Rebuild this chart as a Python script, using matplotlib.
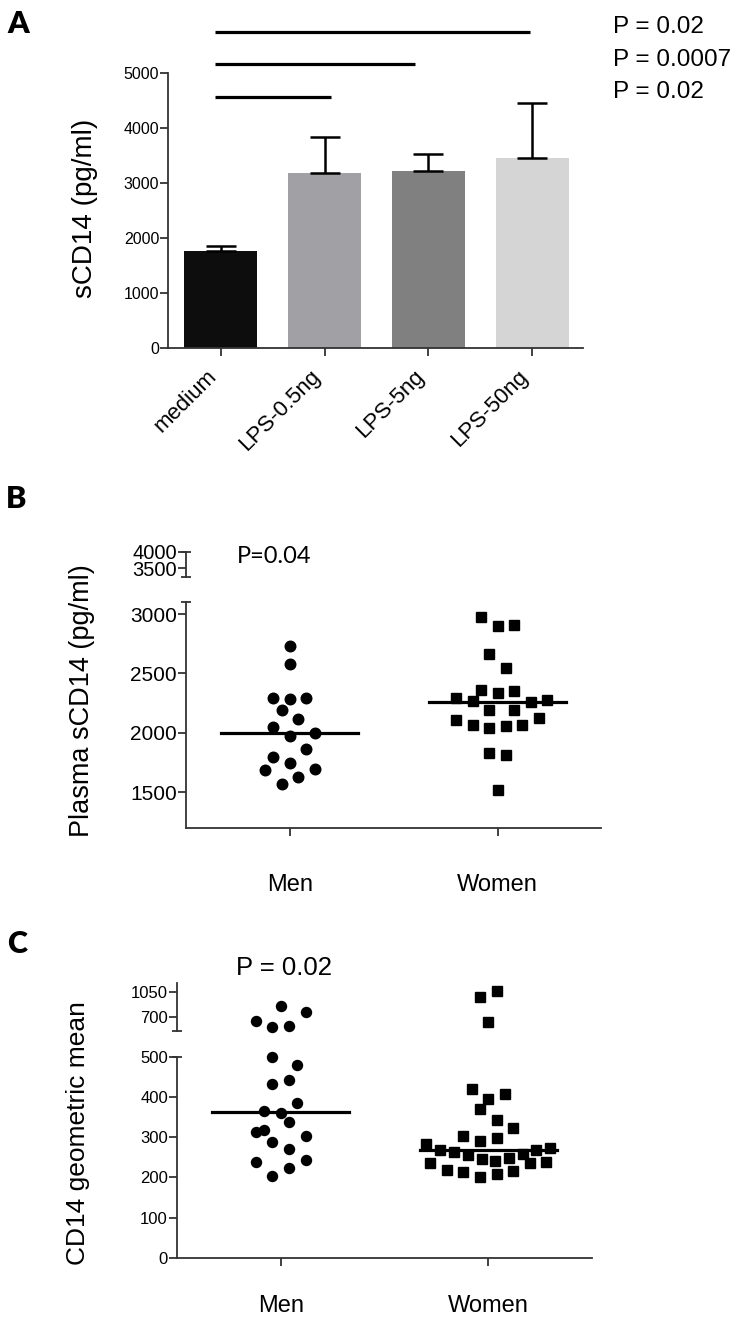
import numpy as np
import matplotlib
matplotlib.use('Agg')
import matplotlib.pyplot as plt

# Panel A: sCD14 in culture supernatant
groups_a = ['medium', 'LPS-0.5ng', 'LPS-5ng', 'LPS-50ng']
means_a = [1775, 3180, 3230, 3460]
errs_a = [90, 655, 305, 1005]
pvals_a = ['P = 0.02', 'P = 0.0007', 'P = 0.02']
compare_a = [3, 2, 1]   # medium vs. this group, top to bottom

# Panel B: plasma sCD14 (pg/ml)
men_b = [2733, 2576, 2295, 2284, 2295, 2191, 2115, 2048, 1972, 2000,
         1865, 1792, 1744, 1685, 1697, 1629, 1570]
men_b_jit = [0, 0, -0.08, 0, 0.08, -0.04, 0.04, -0.08, 0, 0.12,
             0.08, -0.08, 0, -0.12, 0.12, 0.04, -0.04]
women_b = [2972, 2902, 2910, 2666, 2545, 2357, 2337, 2348, 2295, 2270,
           2258, 2275, 2194, 2194, 2110, 2065, 2039, 2053, 2067, 2121,
           1826, 1812, 1517]
women_b_jit = [-0.08, 0, 0.08, -0.04, 0.04, -0.08, 0, 0.08, -0.2, -0.12,
               0.16, 0.24, -0.04, 0.08, -0.2, -0.12, -0.04, 0.04, 0.12, 0.2,
               -0.04, 0.04, 0]

# Panel C: CD14 geometric mean
men_c = [858, 768, 649, 571, 581, 499, 479, 432, 441, 385, 365, 360,
         337, 312, 317, 302, 288, 270, 238, 243, 222, 203]
men_c_jit = [0, 0.12, -0.12, -0.04, 0.04, -0.04, 0.08, -0.04, 0.04, 0.08,
             -0.08, 0, 0.04, -0.12, -0.08, 0.12, -0.04, 0.04, -0.12, 0.12,
             0.04, -0.04]
women_c = [982, 1064, 632, 419, 408, 395, 370, 342, 322, 303, 291, 299,
           283, 268, 264, 255, 245, 241, 248, 259, 267, 272,
           235, 218, 212, 200, 208, 216, 235, 239]
women_c_jit = [-0.04, 0.04, 0, -0.08, 0.08, 0, -0.04, 0.04, 0.12, -0.12, -0.04, 0.04,
               -0.3, -0.234, -0.167, -0.1, -0.032, 0.034, 0.1, 0.168, 0.232, 0.298,
               -0.28, -0.2, -0.12, -0.04, 0.04, 0.12, 0.2, 0.28]

sexes = ['Men', 'Women']

W, H = 738, 1318
plt.rcParams['font.family'] = ['Liberation Sans', 'DejaVu Sans']
SPINE = '#333333'
fig = plt.figure(figsize=(W / 100, H / 100), dpi=100)


def add_axes_px(left, top, right, bottom):
    return fig.add_axes([left / W, 1 - bottom / H, (right - left) / W, (bottom - top) / H])


def style_axes(ax, ysize, left_only=False):
    for side in ['top', 'right']:
        ax.spines[side].set_visible(False)
    for side in ['left', 'bottom']:
        ax.spines[side].set_color(SPINE)
        ax.spines[side].set_linewidth(1.3)
    if left_only:
        ax.spines['bottom'].set_visible(False)
        ax.set_xticks([])
    ax.tick_params(axis='y', length=6, width=1.3, color=SPINE, pad=0.5, labelsize=ysize)
    ax.patch.set_alpha(0)


def break_cap(ax, y):
    # small horizontal cap where the y-axis is broken
    ax.plot([0], [y], marker='_', ms=7, mew=1.3, color=SPINE,
            transform=ax.transAxes, clip_on=False)


# ---------------- Panel A ----------------
ax_a = add_axes_px(168.3, 73.3, 583.3, 348.3)
style_axes(ax_a, 11.5)
xa = np.arange(len(groups_a))
colors_a = ['#0d0d0d', '#a1a1a5', '#808080', '#d5d5d5']
ax_a.bar(xa, means_a, width=0.70, color=colors_a, zorder=2)
ax_a.errorbar(xa, means_a, yerr=[np.zeros(len(errs_a)), errs_a], fmt='none',
              ecolor='black', elinewidth=1.8, capsize=11, capthick=1.8, zorder=3)
ax_a.set_xlim(-0.504, 3.49)
ax_a.set_ylim(0, 5000)
ax_a.set_yticks(np.arange(0, 5001, 1000))
ax_a.set_xticks(xa)
ax_a.set_xticklabels(groups_a, rotation=45, ha='right', fontsize=16)
ax_a.tick_params(axis='x', length=5.5, width=1.3, color=SPINE, pad=7)

# significance lines above the bars
line_heights = [5756, 5164, 4564]
line_ends = [2.98, 1.87, 1.06]
for h, x1 in zip(line_heights, line_ends):
    ax_a.plot([-0.05, x1], [h, h], color='black', lw=2.3, clip_on=False, solid_capstyle='butt')
for i, p in enumerate(pvals_a):
    fig.text(613 / W, 1 - (33.3 + 32.2 * i) / H, p, fontsize=17.5, va='baseline', ha='left')

fig.text(85 / W, 1 - 208 / H, 'sCD14 (pg/ml)', rotation=90, fontsize=20, ha='center', va='center')
fig.text(7 / W, 1 - 33 / H, 'A', fontsize=22, fontweight='heavy', family='Lato', va='baseline')

# ---------------- Panel B ----------------
ax_b = add_axes_px(186, 602.3, 601.4, 828)
style_axes(ax_b, 15)
ax_b.set_xlim(0.5, 2.5)
ax_b.set_ylim(1197, 3099)
ax_b.set_yticks([1500, 2000, 2500, 3000])
ax_b.set_xticks([1, 2])
ax_b.set_xticklabels(sexes, fontsize=17)
ax_b.tick_params(axis='x', length=6, width=1.3, color=SPINE, pad=27)
ax_b.plot(1 + np.array(men_b_jit), men_b, 'o', color='black', ms=7.6, clip_on=False)
ax_b.plot(2 + np.array(women_b_jit), women_b, 's', color='black', ms=7.2, clip_on=False)
for i, vals in enumerate([men_b, women_b]):
    m = np.median(vals)
    ax_b.plot([i + 1 - 0.33, i + 1 + 0.33], [m, m], color='black', lw=2.3)
break_cap(ax_b, 1)

ax_b2 = add_axes_px(186, 551.7, 601.4, 577.3)
style_axes(ax_b2, 14.5, left_only=True)
ax_b2.set_xlim(0.5, 2.5)
ax_b2.set_ylim(3230, 4000)
ax_b2.set_yticks([3500, 4000])
break_cap(ax_b2, 0)
break_cap(ax_b2, 1)

fig.text(237 / W, 1 - 563 / H, 'P=0.04', fontsize=17, family='Lato', va='baseline')
fig.text(82 / W, 1 - 701 / H, 'Plasma sCD14 (pg/ml)', rotation=90, fontsize=19.5,
         ha='center', va='center')
fig.text(6 / W, 1 - 508 / H, 'B', fontsize=22, fontweight='heavy', family='Lato', va='baseline')

# ---------------- Panel C ----------------
ax_c = add_axes_px(177, 1056.7, 592, 1257.7)
style_axes(ax_c, 12)
ax_c.set_xlim(0.5, 2.5)
ax_c.set_ylim(0, 500)
ax_c.set_yticks(np.arange(0, 501, 100))
ax_c.set_xticks([1, 2])
ax_c.set_xticklabels(sexes, fontsize=17)
ax_c.tick_params(axis='x', length=6, width=1.3, color=SPINE, pad=21)
break_cap(ax_c, 1)

ax_c2 = add_axes_px(177, 983.3, 592, 1031)
style_axes(ax_c2, 12, left_only=True)
ax_c2.set_xlim(0.5, 2.5)
ax_c2.set_ylim(513, 1165)
ax_c2.set_yticks([700, 1050])
break_cap(ax_c2, 0)

for pos, vals, jit, mk, ms in [(1, men_c, men_c_jit, 'o', 7.2), (2, women_c, women_c_jit, 's', 6.8)]:
    vals = np.array(vals)
    xs = pos + np.array(jit)
    low = vals <= 500
    ax_c.plot(xs[low], vals[low], mk, color='black', ms=ms, clip_on=False)
    ax_c2.plot(xs[~low], vals[~low], mk, color='black', ms=ms, clip_on=False)
    m = np.median(vals)
    ax_c.plot([pos - 0.33, pos + 0.33], [m, m], color='black', lw=2.3)

fig.text(236 / W, 1 - 975 / H, 'P = 0.02', fontsize=18.5, va='baseline')
fig.text(78 / W, 1 - 1133 / H, 'CD14 geometric mean', rotation=90, fontsize=19,
         ha='center', va='center')
fig.text(7 / W, 1 - 953 / H, 'C', fontsize=22, fontweight='heavy', family='Lato', va='baseline')

fig.savefig('out.png', dpi=100, facecolor='white')
